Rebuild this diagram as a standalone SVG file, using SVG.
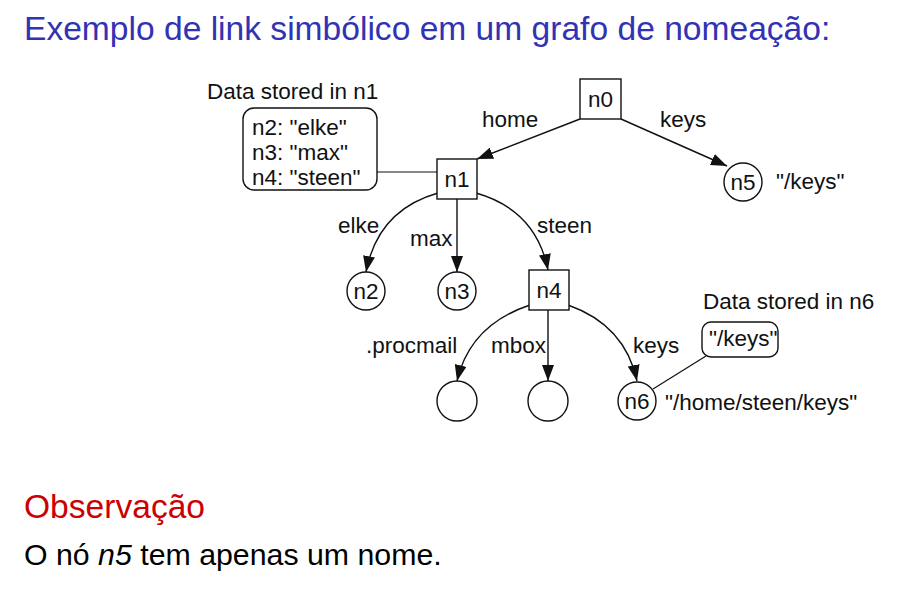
<svg xmlns="http://www.w3.org/2000/svg" width="924" height="596" viewBox="0 0 924 596">
  <style>
    text { font-family: "Liberation Sans", Arial, sans-serif; fill: #111; }
    .lbl { font-size: 22.5px; }
    .node { fill: #fff; stroke: #111; stroke-width: 1.4; }
    .edge { fill: none; stroke: #111; stroke-width: 1.4; }
    .link { fill: none; stroke: #111; stroke-width: 1.2; }
    .title { font-size: 33.6px; fill: #3232b4; }
    .head { font-size: 33.6px; fill: #cc0000; }
    .body { font-size: 30.3px; fill: #000; }
  </style>
  <defs>
    <marker id="arrow" viewBox="0 0 16 12" refX="16" refY="6" markerWidth="16" markerHeight="12" markerUnits="userSpaceOnUse" orient="auto">
      <path d="M0,0 L16,6 L0,12 z" fill="#111"/>
    </marker>
  </defs>

  <text class="title" x="24" y="40">Exemplo de link simbólico em um grafo de nomeação:</text>

  <g id="edges">
    <line class="edge" x1="580" y1="119" x2="477" y2="159" marker-end="url(#arrow)"/>
    <line class="edge" x1="621" y1="119" x2="727" y2="166" marker-end="url(#arrow)"/>
    <path class="edge" d="M438 193 Q378 210 366 272" marker-end="url(#arrow)"/>
    <line class="edge" x1="457" y1="199" x2="457" y2="272" marker-end="url(#arrow)"/>
    <path class="edge" d="M476 193 Q536 210 548 270" marker-end="url(#arrow)"/>
    <path class="edge" d="M530 305 Q470 325 457 381" marker-end="url(#arrow)"/>
    <line class="edge" x1="548" y1="310" x2="548" y2="381" marker-end="url(#arrow)"/>
    <path class="edge" d="M568 305 Q625 325 637 381" marker-end="url(#arrow)"/>
    <line class="link" x1="377" y1="172" x2="437" y2="172"/>
    <line class="link" x1="706" y1="356" x2="653" y2="389"/>
  </g>

  <g id="edge-labels">
    <text class="lbl" x="482" y="127">home</text>
    <text class="lbl" x="660" y="127">keys</text>
    <text class="lbl" x="338" y="233">elke</text>
    <text class="lbl" x="410" y="246">max</text>
    <text class="lbl" x="537" y="233">steen</text>
    <text class="lbl" x="366" y="353">.procmail</text>
    <text class="lbl" x="491" y="353">mbox</text>
    <text class="lbl" x="633" y="353">keys</text>
  </g>

  <g id="n0">
    <rect class="node" x="580" y="79" width="41" height="40"/>
    <text class="lbl" x="600.5" y="107" text-anchor="middle">n0</text>
  </g>
  <g id="n1">
    <rect class="node" x="437" y="159" width="40" height="40"/>
    <text class="lbl" x="457" y="187" text-anchor="middle">n1</text>
  </g>
  <g id="n1-data">
    <text class="lbl" x="207" y="99">Data stored in n1</text>
    <rect class="node" x="243" y="108" width="134" height="82" rx="11"/>
    <text class="lbl" x="252" y="135">n2: "elke"</text>
    <text class="lbl" x="252" y="160">n3: "max"</text>
    <text class="lbl" x="252" y="185">n4: "steen"</text>
  </g>
  <g id="n5">
    <circle class="node" cx="743" cy="182" r="19"/>
    <text class="lbl" x="743" y="190" text-anchor="middle">n5</text>
    <text class="lbl" x="776" y="189">"/keys"</text>
  </g>
  <g id="n2">
    <circle class="node" cx="366" cy="291" r="19"/>
    <text class="lbl" x="366" y="299" text-anchor="middle">n2</text>
  </g>
  <g id="n3">
    <circle class="node" cx="457" cy="291" r="19"/>
    <text class="lbl" x="457" y="299" text-anchor="middle">n3</text>
  </g>
  <g id="n4">
    <rect class="node" x="529" y="270" width="40" height="40"/>
    <text class="lbl" x="549" y="298" text-anchor="middle">n4</text>
  </g>
  <g id="procmail">
    <circle class="node" cx="457" cy="401" r="20"/>
  </g>
  <g id="mbox">
    <circle class="node" cx="548" cy="401" r="20"/>
  </g>
  <g id="n6">
    <circle class="node" cx="637" cy="401" r="19"/>
    <text class="lbl" x="637" y="409" text-anchor="middle">n6</text>
    <text class="lbl" x="665" y="410">"/home/steen/keys"</text>
  </g>
  <g id="n6-data">
    <text class="lbl" x="703" y="309">Data stored in n6</text>
    <rect class="node" x="702" y="322" width="76" height="35" rx="9"/>
    <text class="lbl" x="709" y="346">"/keys"</text>
  </g>

  <text class="head" x="24" y="518">Observação</text>
  <text class="body" x="24" y="565">O nó <tspan font-style="italic">n5</tspan> tem apenas um nome.</text>
</svg>
